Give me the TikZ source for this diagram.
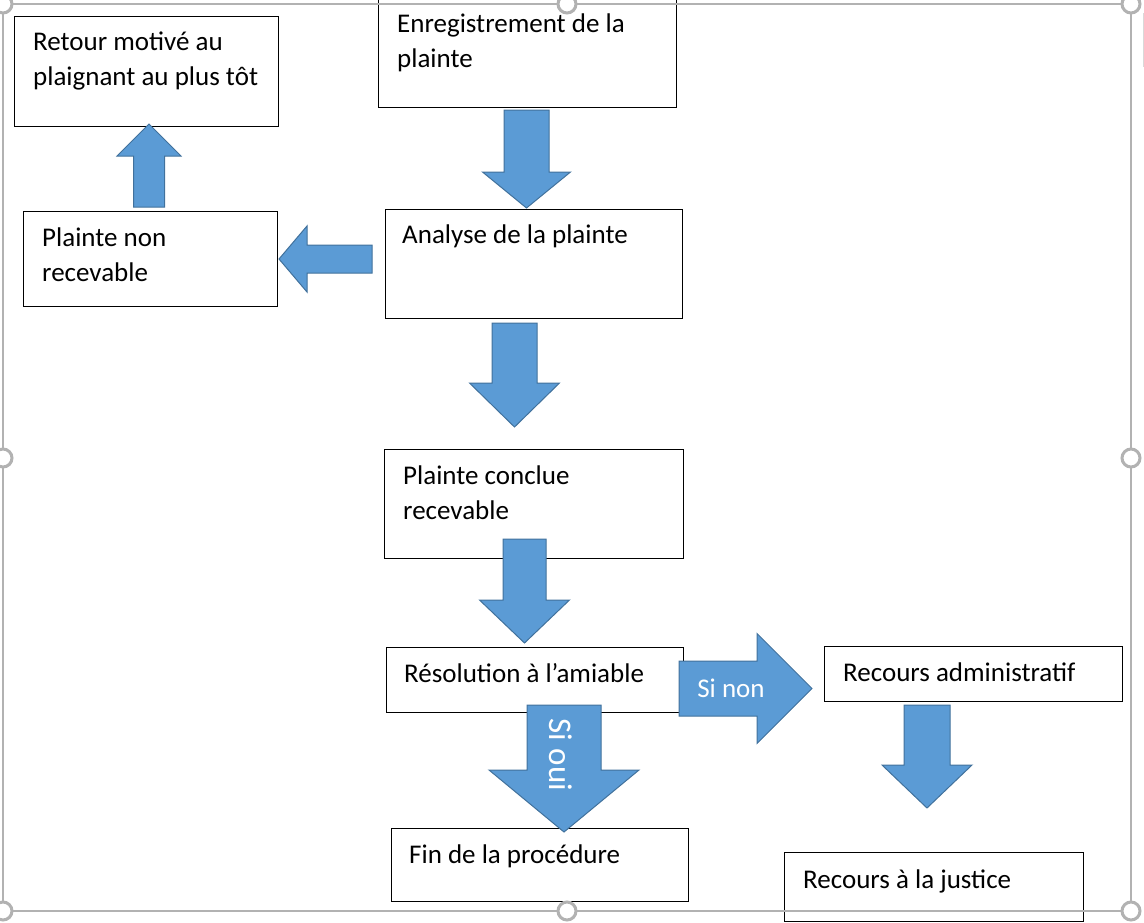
\documentclass[tikz,border=0pt]{standalone}
\usepackage{fontspec}
\setmainfont{Carlito}
\usetikzlibrary{positioning}
\definecolor{flbleu}{RGB}{91,155,213}
\definecolor{flbord}{RGB}{65,113,156}
\definecolor{cadregris}{RGB}{178,178,178}

\tikzset{
  boite/.style={draw=black,line width=1.1pt,anchor=north west,inner sep=0pt},
  texte/.style={anchor=base west,inner sep=0pt,align=left,font=\fontsize{27}{35}\selectfont},
  bloc/.style={fill=flbleu,draw=flbord,line width=1pt,line join=miter},
  poignee/.style={draw=cadregris,fill=white,line width=3pt},
}

% fleche pleine : origine, angle, longueur, longueur pointe, demi-tige, demi-pointe
\newcommand{\fleche}[6]{%
  \draw[bloc,shift={#1},rotate=#2] (0,-#5) -- ({#3-#4},-#5) -- ({#3-#4},-#6) -- (#3,0)
    -- ({#3-#4},#6) -- ({#3-#4},#5) -- (0,#5) -- cycle;}

\begin{document}
\begin{tikzpicture}[x=1pt,y=-1pt]
\useasboundingbox (0,0) rectangle (1144,922);

% boites
\node[boite,minimum width=264pt,minimum height=110pt] (retour) at (14,16) {};
\node[boite,minimum width=298pt,minimum height=112pt] (enreg) at (378,-5) {};
\node[boite,minimum width=297pt,minimum height=109pt] (analyse) at (385,209) {};
\node[boite,minimum width=254pt,minimum height=95pt] (nonrec) at (23,211) {};
\node[boite,minimum width=299pt,minimum height=109pt] (conclue) at (384,449) {};
\node[boite,minimum width=297pt,minimum height=65pt] (amiable) at (386,647) {};
\node[boite,minimum width=297pt,minimum height=73pt] (fin) at (391,828) {};
\node[boite,minimum width=298pt,minimum height=55pt] (recadmin) at (824,646) {};
\node[boite,minimum width=299pt,minimum height=69pt] (justice) at (784,852) {};

% (base = ligne du bas pour les textes sur deux lignes)
\node[texte] (tretour) at ([shift={(19,69)}]retour.north west) {Retour motivé au\\plaignant au plus tôt};
\node[texte] (tenreg) at ([shift={(19,72)}]enreg.north west) {Enregistrement de la\\plainte};
\node[texte] (tanalyse) at ([shift={(17,34)}]analyse.north west) {Analyse de la plainte};
\node[texte] (tnonrec) at ([shift={(19,70)}]nonrec.north west) {Plainte non\\recevable};
\node[texte] (tconclue) at ([shift={(19,70)}]conclue.north west) {Plainte conclue\\recevable};
\node[texte] (tamiable) at ([shift={(18,35)}]amiable.north west) {Résolution à l’amiable};
\node[texte] (tfin) at ([shift={(18,35)}]fin.north west) {Fin de la procédure};
\node[texte] (trecadmin) at ([shift={(19,35)}]recadmin.north west) {Recours administratif};
\node[texte] (tjustice) at ([shift={(19,36)}]justice.north west) {Recours à la justice};

% fleches
\fleche{(526.5,110)}{-90}{98}{36}{22.5}{44}
\fleche{(372,259)}{180}{93}{28}{14}{33}
\fleche{(149,207)}{90}{83}{32}{15.5}{32}
\fleche{(514.5,323)}{-90}{104}{44}{22.5}{45}
\fleche{(524.5,539)}{-90}{104}{43}{21.5}{45}
\fleche{(679,688.5)}{0}{133}{55}{27.5}{55}
\fleche{(564,705)}{-90}{127}{62}{37}{75}
\fleche{(927,705)}{-90}{103}{43}{23}{45}

\node[texte,anchor=base,text=white] (sinon) at (731,697) {Si non};
\node[texte,anchor=base,text=white,rotate=-90,font=\fontsize{33}{40}\selectfont] (sioui) at (549,755) {Si oui};

% cadre de selection
\draw[cadregris,line width=1.6pt] (3,4) rectangle (1131,911);
\draw[gray!30,line width=1pt] (1143,13) -- (1143,67);
\foreach \x/\y in {3/4,567/4,1131/4,3/458,1131/458,3/911,567/911,1131/911} {\draw[poignee] (\x,\y) circle (9pt);}
\end{tikzpicture}
\end{document}
